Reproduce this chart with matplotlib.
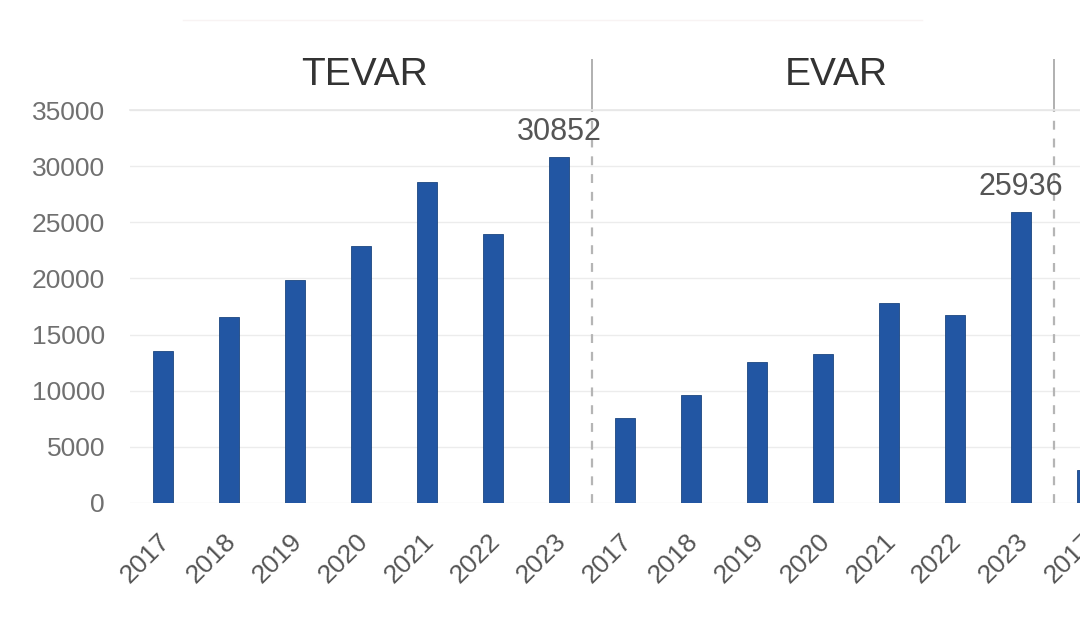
import numpy as np
import matplotlib
matplotlib.use("Agg")
from matplotlib import pyplot as plt
from matplotlib.transforms import blended_transform_factory, ScaledTranslation

plt.rcParams['font.family'] = ['Liberation Sans', 'DejaVu Sans']

# data
years = ['2017', '2018', '2019', '2020', '2021', '2022', '2023']
groups = ['TEVAR', 'EVAR']
tevar = [13500, 16600, 19900, 22900, 28600, 24000, 30852]
evar = [7540, 9610, 12580, 13270, 17840, 16740, 25936]
third_group = [2900]  # only the first bar of the next panel is visible
labelled = {'TEVAR': 30852, 'EVAR': 25936}

BAR_COLOR = '#2256a3'
TEXT_GRAY = '#555555'
GRID_GRAY = '#ececec'

values = tevar + evar + third_group
tick_labels = years + years + years[:len(third_group)]
x = np.arange(len(values))

fig = plt.figure(figsize=(10.8, 6.4), dpi=100)
ax = fig.add_axes([0.1204, 0.2141, 0.892, 0.614])

ax.bar(x, values, width=0.3, color=BAR_COLOR, edgecolor='#1c4680', linewidth=0.6, zorder=3)

ax.set_xlim(-0.5, 14.1)
ax.set_ylim(0, 35000)
ax.set_yticks(np.arange(0, 35001, 5000))
ax.set_yticklabels([str(v) for v in range(0, 35001, 5000)], fontsize=19, color='#707070')
ax.set_xticks(x)
ax.set_xticklabels(tick_labels, rotation=45, ha='right', rotation_mode='anchor',
                   fontsize=19, color=TEXT_GRAY)
ax.tick_params(axis='y', length=0, pad=18)
ax.tick_params(axis='x', length=0, pad=19)

# nudge the rotated year labels a little to the left, like the original
shift = ScaledTranslation(-4 / 72, 0, fig.dpi_scale_trans)
for lbl in ax.get_xticklabels():
    lbl.set_transform(lbl.get_transform() + shift)

ax.grid(axis='y', color=GRID_GRAY, linewidth=1.0, zorder=0)
for s in ax.spines.values():
    s.set_visible(False)

# value labels on the last bar of each group
n = len(years)
for gi, name in enumerate(groups):
    xi = gi * n + n - 1
    ax.annotate(str(labelled[name]), (xi, labelled[name]), xytext=(0, 7),
                textcoords='offset points', ha='center', va='bottom',
                fontsize=22, color=TEXT_GRAY, zorder=4)

# group dividers and header
trans = blended_transform_factory(ax.transData, ax.transAxes)
for gi in range(len(groups)):
    xd = gi * n + n - 0.5
    ax.plot([xd, xd], [0, 1], transform=trans, color='#b5b5b5', linewidth=1.6,
            linestyle=(0, (4, 4)), clip_on=False, zorder=2)
    ax.plot([xd, xd], [1, 1.127], transform=trans, color='#b0b0b0', linewidth=1.4,
            clip_on=False)
title_nudge = [0.05, 0.2]
for gi, name in enumerate(groups):
    ax.text(gi * n + (n - 1) / 2 + title_nudge[gi], 1.089, name, transform=trans,
            ha='center', va='center', fontsize=28, color='#333333')

ax.plot([-0.5, 14.1], [1, 1], transform=trans, color='#e6e6e6', linewidth=1.2, clip_on=False)
ax.plot([0.3, 11.5], [1.229, 1.229], transform=trans, color='#f8f3f3', linewidth=1.0, clip_on=False)

fig.savefig('out.png', dpi=100)
